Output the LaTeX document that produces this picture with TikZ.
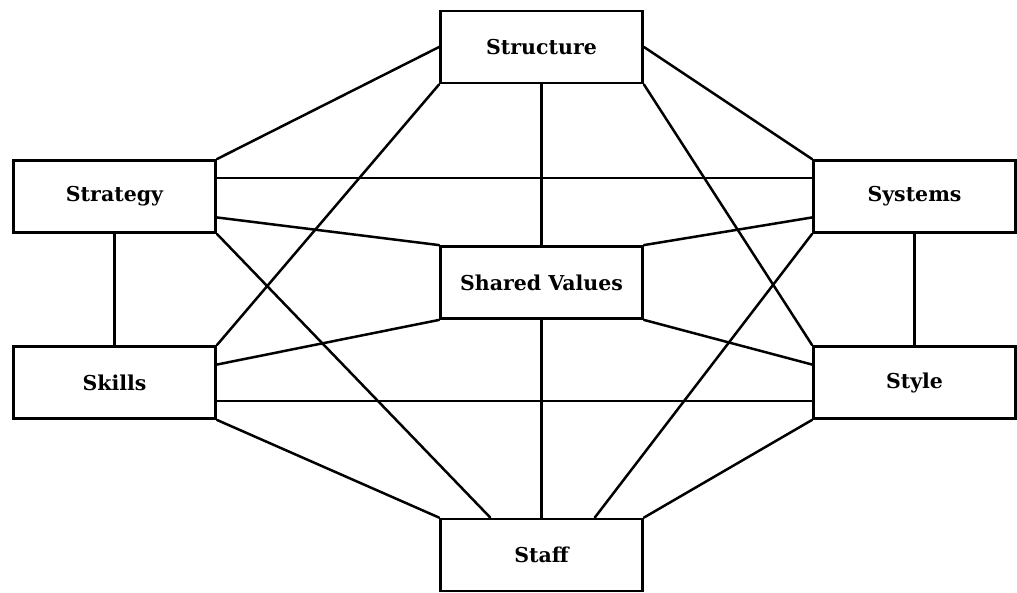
\documentclass[tikz,border=0pt]{standalone}
\usepackage{fontspec}
\setmainfont{DejaVu Serif}
\usetikzlibrary{calc}
\begin{document}
\begin{tikzpicture}[x=1pt,y=-1pt,
  box/.style={draw, line width=2.8pt, minimum width=202pt, minimum height=72pt,
    inner sep=0pt, fill=white, font=\fontsize{20.5}{24}\selectfont\bfseries},
  link/.style={line width=2.5pt, line cap=round}]
\useasboundingbox (0,0) rectangle (1017,592);

% the seven elements
\node[box] (structure) at (541.5,47)  {Structure};
\node[box] (strategy)  at (114.5,196.5) {Strategy};
\node[box] (systems)   at (914.5,196.5) {Systems};
\node[box] (shared)    at (541.5,282.5) {Shared Values};
\node[box] (skills)    at (114.5,382.5) {Skills};
\node[box] (style)     at (914.5,382.5) {Style};
\node[box] (staff)     at (541.5,555) {Staff};

% attachment points along the sides
\coordinate (strE1) at ($(strategy.north east)!0.25!(strategy.south east)$);
\coordinate (strE3) at ($(strategy.north east)!0.78!(strategy.south east)$);
\coordinate (sysW1) at ($(systems.north west)!0.25!(systems.south west)$);
\coordinate (sysW3) at ($(systems.north west)!0.78!(systems.south west)$);
\coordinate (sklE1) at ($(skills.north east)!0.26!(skills.south east)$);
\coordinate (sklE3) at ($(skills.north east)!0.75!(skills.south east)$);
\coordinate (styW1) at ($(style.north west)!0.26!(style.south west)$);
\coordinate (styW3) at ($(style.north west)!0.75!(style.south west)$);
\coordinate (stfN1) at ($(staff.north west)!0.25!(staff.north east)$);
\coordinate (stfN3) at ($(staff.north west)!0.76!(staff.north east)$);

% Structure
\draw[link] (structure.west) -- (strategy.north east);
\draw[link] (structure.east) -- (systems.north west);
\draw[link] (structure.south west) -- (skills.north east);
\draw[link] (structure.south east) -- (style.north west);
\draw[link] (structure.south) -- (shared.north);
% Strategy
\draw[link] (strE1) -- (sysW1);
\draw[link] (strE3) -- (shared.north west);
\draw[link] (strategy.south east) -- (stfN1);
\draw[link] (strategy.south) -- (skills.north);
% Systems
\draw[link] (sysW3) -- (shared.north east);
\draw[link] (systems.south west) -- (stfN3);
\draw[link] (systems.south) -- (style.north);
% Skills and Style
\draw[link] (sklE1) -- (shared.south west);
\draw[link] (styW1) -- (shared.south east);
\draw[link] (sklE3) -- (styW3);
\draw[link] (skills.south east) -- (staff.north west);
\draw[link] (style.south west) -- (staff.north east);
% Shared Values
\draw[link] (shared.south) -- (staff.north);
\end{tikzpicture}
\end{document}
